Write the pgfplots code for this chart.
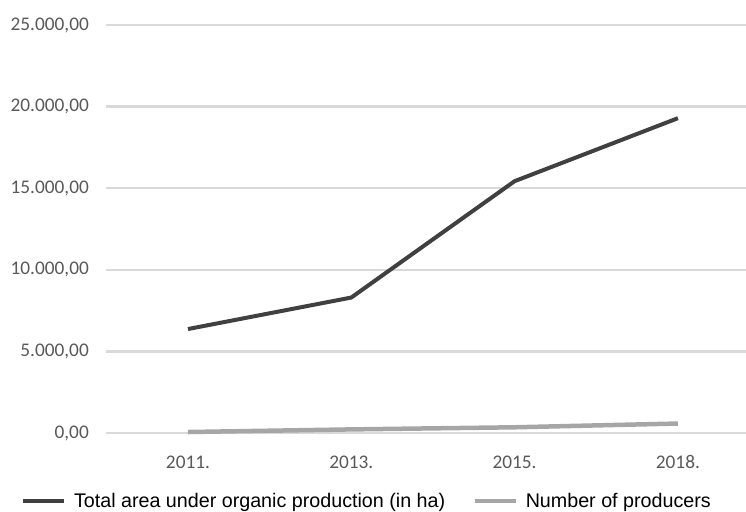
\documentclass[border=0pt]{standalone}
\usepackage{pgfplots}
\pgfplotsset{compat=1.18}
\usepackage{fontspec}
\setmainfont{Liberation Sans}
\newfontfamily\carlito{Carlito}
\definecolor{areac}{HTML}{404040}
\definecolor{prodc}{HTML}{A6A6A6}
\definecolor{gridc}{HTML}{D9D9D9}
\definecolor{tickc}{HTML}{595959}
\begin{document}
\begin{tikzpicture}
\useasboundingbox (-106pt,-78pt) rectangle (640pt,433pt);
\begin{axis}[
  scale only axis,
  width=640pt, height=408pt,
  xmin=-0.502, xmax=3.417,
  ymin=0, ymax=25000,
  scaled y ticks=false,
  clip=false,
  axis line style={draw=none},
  tick style={draw=none},
  xtick={0,1,2,3},
  xticklabels={2011.,2013.,2015.,2018.},
  ytick={0,5000,10000,15000,20000,25000},
  yticklabels={{0,00},{5.000,00},{10.000,00},{15.000,00},{20.000,00},{25.000,00}},
  ymajorgrids,
  major grid style={draw=gridc, line width=2.2pt},
  yticklabel style={font=\carlito\fontsize{19.3}{19.3}\selectfont, text=tickc, anchor=east, inner sep=0pt, xshift=-17pt},
  xticklabel style={font=\carlito\fontsize{19.3}{19.3}\selectfont, text=tickc, anchor=north, inner sep=0pt, yshift=-23pt, text height=12.5pt, text depth=0pt},
  legend columns=2,
  legend cell align=left,
  legend style={draw=none, fill=none, inner sep=0pt, outer sep=0pt,
    at={(axis description cs:-0.1328,-0.1667)}, anchor=west,
    font=\fontsize{19.7}{19.7}\selectfont,
    nodes={inner sep=0pt}},
  legend image code/.code={\draw[#1] (0pt,0pt) -- (41pt,0pt); \path (49pt,0pt);},
]
\addplot[areac, line width=4pt] coordinates {(0,6370) (1,8300) (2,15430) (3,19290)};
\addlegendentry{Total area under organic production (in ha)\hspace*{27pt}}
\addplot[prodc, line width=4.5pt] coordinates {(0,60) (1,220) (2,350) (3,580)};
\addlegendentry{Number of producers}
\end{axis}
\end{tikzpicture}
\end{document}
